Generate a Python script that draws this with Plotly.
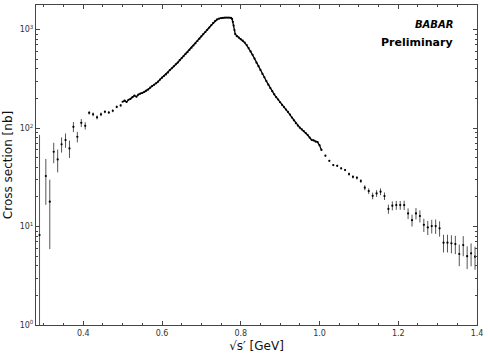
import plotly.graph_objects as go

# Low-mass sparse points (sqrt(s') [GeV], cross section [nb], errors)
low_x = [0.289, 0.305, 0.315, 0.325, 0.335, 0.345, 0.355, 0.365, 0.375, 0.385, 0.395,
         0.405, 0.415, 0.425, 0.435, 0.445, 0.455, 0.465, 0.475, 0.485, 0.495]
low_y = [8.2, 32.6, 17.9, 57.5, 48.0, 68.4, 75.5, 62.2, 103.0, 81.6, 113.0,
         105.5, 143.0, 138.0, 128.5, 138.0, 146.5, 144.0, 150.0, 164.0, 170.0]
low_err_plus = [77.0, 16.0, 12.0, 13.5, 12.5, 12.0, 12.5, 12.5, 12.0, 10.0, 10.5,
                9.0, 6.0, 6.0, 6.0, 6.0, 5.0, 5.0, 5.0, 5.0, 5.0]
low_err_minus = [7.9, 16.0, 12.0, 13.5, 12.5, 12.0, 12.5, 12.5, 12.0, 10.0, 10.5,
                 9.0, 6.0, 6.0, 6.0, 6.0, 5.0, 5.0, 5.0, 5.0, 5.0]

# Dense region around the rho peak
dense_x = [0.500, 0.505, 0.510, 0.515, 0.520, 0.525, 0.530, 0.535, 0.540, 0.545,
           0.550, 0.555, 0.560, 0.565, 0.570, 0.575, 0.580, 0.585, 0.590, 0.595,
           0.600, 0.605, 0.610, 0.615, 0.620, 0.625, 0.630, 0.635, 0.640, 0.645,
           0.650, 0.655, 0.660, 0.665, 0.670, 0.675, 0.680, 0.685, 0.690, 0.695,
           0.700, 0.705, 0.710, 0.715, 0.720, 0.725, 0.730, 0.735, 0.740, 0.745,
           0.750, 0.755, 0.760, 0.765, 0.770, 0.775, 0.778, 0.780, 0.782, 0.784,
           0.786, 0.790, 0.795, 0.800, 0.805, 0.810, 0.815, 0.820, 0.825, 0.830,
           0.835, 0.840, 0.845, 0.850, 0.855, 0.860, 0.865, 0.870, 0.875, 0.880,
           0.885, 0.890, 0.895, 0.900, 0.905, 0.910, 0.915, 0.920, 0.925, 0.930,
           0.935, 0.940, 0.945, 0.950, 0.955, 0.960, 0.965, 0.970, 0.975, 0.980,
           0.985, 0.990, 0.995, 1.000, 1.005]
dense_y = [185, 190, 184, 194, 198, 206, 214, 208, 219, 224,
           227, 233, 240, 246, 257, 267, 275, 285, 296, 311,
           325, 338, 351, 366, 388, 405, 424, 444, 463, 489,
           514, 539, 566, 592, 624, 655, 690, 726, 766, 810,
           855, 900, 946, 996, 1050, 1108, 1168, 1224, 1268, 1295,
           1310, 1318, 1322, 1326, 1325, 1318, 1285, 1200, 1100, 990,
           900, 858, 830, 800, 772, 738, 697, 650, 601, 554,
           508, 462, 425, 390, 356, 328, 300, 276, 255, 237,
           220, 206, 195, 183, 172, 163, 154, 146, 137, 128,
           120, 112, 106, 101, 97, 93, 89, 85, 80, 76,
           75, 73, 72, 67, 60]

# High-mass tail
tail_x = [1.015, 1.025, 1.035, 1.045, 1.055, 1.065, 1.075, 1.085, 1.095, 1.105,
          1.115, 1.125, 1.135, 1.145, 1.155, 1.165, 1.175, 1.185, 1.195, 1.205,
          1.215, 1.225, 1.235, 1.245, 1.255, 1.265, 1.275, 1.285, 1.295, 1.305,
          1.315, 1.325, 1.335, 1.345, 1.355, 1.365, 1.375, 1.385, 1.395]
tail_y = [52.4, 46.5, 42.1, 41.4, 39.0, 37.5, 34.1, 32.0, 31.3, 29.0,
          24.8, 22.9, 20.5, 21.7, 22.6, 20.4, 15.1, 16.3, 16.5, 16.5,
          16.5, 13.6, 11.6, 13.6, 12.8, 10.4, 9.8, 10.1, 10.1, 9.6,
          6.85, 6.85, 6.75, 6.64, 5.26, 6.49, 5.0, 5.34, 4.94]
tail_err = [1.0, 1.0, 1.0, 1.0, 1.0, 1.0, 1.2, 1.2, 1.3, 1.3,
            1.5, 1.5, 1.6, 1.7, 1.8, 1.8, 1.6, 1.7, 1.7, 1.7,
            1.8, 1.7, 1.6, 1.8, 1.8, 1.6, 1.6, 1.6, 1.7, 1.7,
            1.4, 1.4, 1.4, 1.4, 1.3, 1.5, 1.3, 1.4, 1.3]

x_ticks = [0.4, 0.6, 0.8, 1.0, 1.2, 1.4]
x_ticktext = ["0.4", "0.6", "0.8", "1.0", "1.2", "1.4"]
y_ticks = [1, 10, 100, 1000]
y_ticktext = ["10<sup>0</sup>", "10<sup>1</sup>", "10<sup>2</sup>", "10<sup>3</sup>"]
y_minor = [m * d for d in (1, 10, 100, 1000) for m in range(2, 10)]

FONT = "DejaVu Sans"
AX = "#444444"

fig = go.Figure()
marker = dict(color="black", size=2.2)
ebar = dict(type="data", symmetric=False, thickness=1, width=0, color="#555555")

fig.add_trace(go.Scatter(x=low_x, y=low_y, mode="markers", marker=marker,
                         error_y=dict(ebar, array=low_err_plus, arrayminus=low_err_minus),
                         showlegend=False))
fig.add_trace(go.Scatter(x=dense_x, y=dense_y, mode="lines+markers", marker=marker,
                         line=dict(color="black", width=1.3),
                         showlegend=False))
fig.add_trace(go.Scatter(x=tail_x, y=tail_y, mode="markers", marker=marker,
                         error_y=dict(type="data", array=tail_err, thickness=1, width=0,
                                      color="#555555"),
                         showlegend=False))

fig.update_layout(
    width=488, height=364,
    margin=dict(l=36, r=11, t=5, b=39),
    paper_bgcolor="white", plot_bgcolor="white",
    font=dict(family=FONT, size=8, color="#333333"),
    xaxis=dict(range=[0.28, 1.4], tickmode="array", tickvals=x_ticks, ticktext=x_ticktext,
               ticks="inside", ticklen=4, tickcolor=AX, showline=True, linecolor=AX,
               linewidth=1, mirror="ticks", showgrid=False, zeroline=False,
               tickfont=dict(family=FONT, size=8, color="#333333"),
               minor=dict(tickmode="linear", tick0=0.3, dtick=0.05, ticks="inside",
                          ticklen=2, tickcolor=AX, showgrid=False),
               title=dict(text="√s′ [GeV]",
                          font=dict(family=FONT, size=12, color="#111111"), standoff=5)),
    yaxis=dict(type="log", range=[0, 3.25], tickmode="array", tickvals=y_ticks,
               ticktext=y_ticktext, ticks="inside", ticklen=4, tickcolor=AX,
               showline=True, linecolor=AX, linewidth=1, mirror="ticks",
               showgrid=False, zeroline=False,
               tickfont=dict(family=FONT, size=8, color="#333333"),
               minor=dict(tickmode="array", tickvals=y_minor, ticks="inside",
                          ticklen=2, tickcolor=AX, showgrid=False),
               title=dict(text="Cross section [nb]",
                          font=dict(family=FONT, size=12, color="#111111"), standoff=4)),
    annotations=[
        dict(text="<b><i>BABAR</i></b>", xref="paper", yref="paper", x=0.949, y=0.938,
             xanchor="right", yanchor="middle", showarrow=False,
             font=dict(family=FONT, size=10, color="black")),
        dict(text="<b>Preliminary</b>", xref="paper", yref="paper", x=0.951, y=0.882,
             xanchor="right", yanchor="middle", showarrow=False,
             font=dict(family=FONT, size=11, color="black")),
    ],
)

fig.write_html("out.html", config={"displayModeBar": False},
               post_script="document.body.style.margin='0';")
